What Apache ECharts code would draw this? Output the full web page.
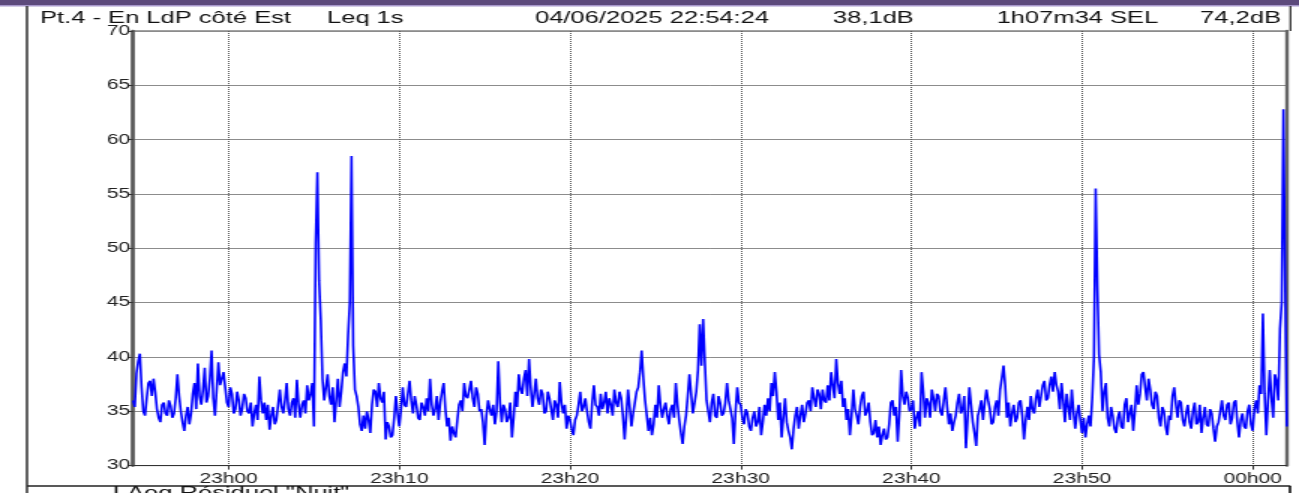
<!DOCTYPE html>
<html><head><meta charset="utf-8">
<script src="https://cdn.jsdelivr.net/npm/echarts@6/dist/echarts.min.js"></script>
<style>
html,body{margin:0;padding:0;background:#fff;overflow:hidden}
#c{width:866px;height:493px;transform:scaleX(1.5);transform-origin:0 0}
</style></head><body><div id="c"></div>
<script>
// ---- data ----
const headerParts = ['Pt.4 - En LdP côté Est', 'Leq 1s', '04/06/2025 22:54:24', '38,1dB', '1h07m34', 'SEL', '74,2dB'];
const footerText = 'LAeq Résiduel "Nuit"';
const durationSec = 4054;            // 1h07m34 from 22:54:24
const stepSec = 12;                  // leqEven at t = 12k s, leqOdd at t = 12k + 6 s
const tickSeconds = [336, 936, 1536, 2136, 2736, 3336, 3936];
const tickLabels = ['23h00', '23h10', '23h20', '23h30', '23h40', '23h50', '00h00'];
const leqEven = [
36.0, 38.5, 40.3, 35.0, 36.2, 37.8, 38.0, 35.2, 34.0, 35.8,
34.6, 35.5, 34.8, 38.4, 35.0, 33.2, 35.4, 34.8, 37.6, 39.4,
35.6, 39.0, 36.4, 40.6, 34.6, 39.5, 38.0, 37.2, 35.4, 36.6,
35.2, 36.0, 35.3, 36.2, 34.8, 33.6, 35.6, 38.2, 34.8, 34.2,
33.3, 35.4, 34.2, 37.0, 34.8, 37.6, 34.6, 36.2, 37.9, 34.4,
36.0, 37.4, 36.6, 33.6, 57.0, 43.4, 36.0, 38.4, 35.6, 34.0,
38.0, 36.8, 39.4, 42.0, 58.5, 37.0, 35.4, 33.2,
33.4, 34.2, 35.6, 36.8, 37.6, 35.8, 32.4, 33.6, 32.8, 36.4,
33.6, 37.2, 35.4, 37.8, 34.8, 35.6, 34.2, 35.4, 36.2, 38.0,
34.6, 36.4, 35.8, 37.6, 33.6, 32.3, 33.0, 34.2, 36.0, 37.6,
36.2, 37.8, 35.4, 36.6, 35.2, 31.9, 36.0, 34.6, 33.8, 39.6,
34.0, 35.2, 34.4, 32.6, 36.8, 38.4, 36.6, 38.8, 39.8, 35.4,
38.0, 35.6, 36.6, 35.0, 36.2, 34.2, 35.6, 37.7, 34.8, 33.4,
34.2, 32.8, 34.6, 36.8, 35.4, 35.0, 33.4, 37.4,
35.4, 36.6, 35.8, 34.8, 35.6, 37.0, 35.4, 36.2, 32.4, 37.0,
33.6, 35.8, 37.2, 40.6, 36.0, 33.2, 32.8, 35.6, 37.4, 34.4,
35.8, 33.8, 35.6, 37.6, 34.2, 32.0, 34.6, 38.4, 34.8, 36.8,
43.0, 43.5, 36.0, 34.0, 36.6, 34.4, 35.8, 34.8, 37.6, 35.2,
32.0, 37.2, 35.6, 33.8, 34.8, 33.2, 35.0, 34.0, 32.8, 35.6,
36.2, 37.6, 38.6, 34.2, 32.6, 36.2, 33.2, 31.5, 34.6, 33.4,
35.6, 34.8, 36.0, 37.2, 35.4, 36.6, 37.0, 35.8,
36.0, 37.4, 39.8, 36.6, 35.4, 34.2, 32.8, 37.0, 34.6, 35.4,
36.8, 35.0, 34.0, 33.0, 32.6, 31.9, 33.4, 32.6, 35.8, 34.6,
32.2, 38.8, 35.6, 36.2, 35.2, 33.4, 35.0, 38.6, 34.4, 35.8,
37.0, 35.0, 36.4, 34.6, 37.2, 33.8, 33.2, 34.6, 36.6, 35.2,
31.6, 37.2, 34.0, 31.8, 35.2, 34.2, 37.0, 35.2, 34.0, 36.0,
37.0, 39.2, 34.4, 33.6, 35.6, 34.4, 36.0, 32.4, 35.4, 36.4,
34.8, 37.0, 36.4, 37.8, 36.2, 38.2, 38.6,
36.8, 37.6, 34.0, 35.4, 37.0, 33.4, 35.6, 33.0, 32.6, 34.6,
36.2, 55.5, 40.2, 35.0, 37.6, 33.6, 34.6, 33.0, 35.0, 33.4,
36.2, 34.8, 33.2, 37.4, 36.6, 38.6, 36.0, 37.0, 35.2, 36.4,
33.6, 35.0, 32.8, 34.2, 37.2, 34.4, 35.8, 33.6, 35.6, 33.4,
35.8, 34.0, 33.0, 35.4, 33.6, 34.8, 32.2, 34.0, 36.0, 34.2,
35.8, 34.4, 36.0, 32.6, 34.8, 33.4, 35.6, 33.2, 36.0, 37.4,
44.0, 32.8, 38.8, 34.4, 37.8, 42.6, 62.8, 33.6
];
const leqOdd = [
35.4, 39.6, 37.2, 34.6, 37.6, 36.4, 36.8, 34.4, 35.6, 34.8,
36.0, 34.4, 36.2, 36.4, 34.0, 34.6, 33.8, 36.6, 35.2, 36.4,
37.0, 35.8, 38.0, 36.2, 37.0, 37.4, 38.6, 35.8, 37.2, 34.8,
36.8, 34.6, 36.6, 35.0, 35.8, 34.8, 34.2, 36.0, 35.8, 35.6,
34.6, 33.8, 35.6, 35.4, 36.0, 35.2, 35.8, 34.4, 35.6, 35.6,
34.8, 36.0, 37.6, 50.5, 47.0, 38.0, 37.2, 36.4, 37.2, 36.0,
35.4, 38.6, 38.2, 45.0, 41.0, 36.4, 33.8, 34.6,
35.0, 33.0, 37.0, 35.4, 36.2, 36.8, 34.0, 32.6, 34.4, 34.8,
35.2, 35.6, 36.6, 36.0, 36.4, 34.4, 35.8, 34.6, 35.0, 35.6,
35.2, 34.2, 36.8, 35.2, 34.4, 33.6, 32.6, 35.6, 35.0, 36.4,
37.0, 36.2, 37.2, 35.0, 34.0, 34.6, 35.2, 35.6, 35.0, 35.8,
35.6, 34.0, 35.8, 34.4, 35.4, 37.0, 38.0, 36.4, 37.2, 36.6,
36.2, 37.0, 34.8, 36.8, 35.2, 36.0, 34.4, 35.8, 35.6, 34.6,
33.4, 34.2, 35.6, 35.0, 36.2, 34.0, 35.8, 35.6,
34.6, 35.2, 36.8, 36.2, 34.6, 35.8, 36.8, 34.6, 34.6, 35.4,
34.8, 36.8, 38.6, 38.0, 34.6, 34.4, 33.8, 34.4, 35.6, 35.2,
34.6, 35.2, 34.4, 35.6, 33.0, 33.6, 36.4, 36.6, 35.8, 38.8,
39.2, 39.6, 35.0, 35.8, 34.6, 36.4, 34.6, 35.8, 36.0, 34.4,
35.0, 35.8, 34.4, 35.2, 33.6, 34.4, 33.6, 35.4, 34.0, 34.6,
35.0, 36.4, 36.8, 35.8, 34.4, 34.0, 32.6, 33.4, 35.4, 34.6,
34.0, 35.8, 35.0, 36.2, 37.0, 35.2, 36.0, 37.4,
38.6, 36.2, 37.6, 37.8, 36.2, 35.2, 34.6, 35.2, 33.8, 36.4,
34.6, 35.8, 32.8, 34.2, 33.6, 32.8, 32.4, 33.8, 36.0, 35.4,
34.8, 36.4, 36.8, 35.0, 36.0, 34.4, 33.6, 36.8, 36.2, 34.4,
36.2, 36.6, 35.0, 36.0, 35.4, 34.8, 34.0, 35.8, 34.8, 36.4,
34.4, 35.6, 33.0, 34.6, 36.0, 35.8, 36.0, 33.8, 35.4, 34.6,
38.0, 37.4, 35.8, 34.8, 34.0, 35.8, 34.6, 34.2, 34.2, 35.2,
36.2, 35.4, 37.4, 36.0, 37.4, 36.8, 37.4,
35.2, 36.0, 36.6, 34.2, 35.0, 34.8, 34.2, 34.4, 33.8, 33.6,
40.0, 46.5, 38.6, 36.8, 34.4, 35.4, 33.4, 34.4, 33.6, 35.6,
34.0, 35.6, 35.0, 35.6, 38.4, 37.2, 38.0, 35.6, 36.8, 34.4,
35.4, 33.6, 34.6, 36.4, 35.6, 36.0, 34.2, 34.8, 34.0, 35.0,
33.8, 35.6, 34.4, 33.8, 35.2, 33.4, 33.6, 35.0, 34.6, 35.6,
33.8, 35.8, 34.0, 34.2, 33.6, 35.0, 33.8, 35.2, 34.8, 36.6,
36.6, 36.0, 36.2, 38.4, 36.0, 45.0, 47.0
];
const yMin = 30, yMax = 70, yStep = 5;

// ---- chart ----
const FONT = '"Liberation Sans", Arial, sans-serif';
const headerPos = [[26.7, 'left'], [218, 'left'], [356.7, 'left'], [555.3, 'left'], [735.3, 'right'], [740, 'left'], [854, 'right']];
const chart = echarts.init(document.getElementById('c'), null, {renderer: 'canvas'});
const seriesData = [];
leqEven.forEach((v, i) => {
  seriesData.push([i * stepSec, v]);
  if (i < leqOdd.length) seriesData.push([i * stepSec + stepSec / 2, leqOdd[i]]);
});

const graphic = [
  {type: 'rect', shape: {x: 0, y: 0, width: 866, height: 5}, style: {fill: '#5d4a7c'}, silent: true},
  {type: 'rect', shape: {x: 0, y: 5, width: 866, height: 1.5}, style: {fill: '#a898cc'}, silent: true},
  {type: 'line', shape: {x1: 18, y1: 6, x2: 18, y2: 493}, style: {stroke: '#222', lineWidth: 1.4}, silent: true},
  {type: 'line', shape: {x1: 860.3, y1: 6, x2: 860.3, y2: 31}, style: {stroke: '#222', lineWidth: 1.2}, silent: true},
  {type: 'line', shape: {x1: 18, y1: 486, x2: 860.3, y2: 486}, style: {stroke: '#222', lineWidth: 1.5}, silent: true},
  {type: 'line', shape: {x1: 860, y1: 486, x2: 860, y2: 493}, style: {stroke: '#111', lineWidth: 1.6}, silent: true},
  {type: 'text', x: 75.3, y: 485, style: {text: footerText, font: '17px ' + FONT, fill: '#111', textVerticalAlign: 'top'}, silent: true}
];
headerParts.forEach((t, i) => {
  graphic.push({type: 'text', x: headerPos[i][0], y: 18.5,
    style: {text: t, font: '17px ' + FONT, fill: '#111', textAlign: headerPos[i][1], textVerticalAlign: 'middle'}, silent: true});
});

chart.setOption({
  animation: false,
  backgroundColor: '#fff',
  grid: {left: 88.7, right: 8.5, top: 31, bottom: 27.4, show: true, borderColor: '#444', borderWidth: 1},
  xAxis: [{
    type: 'value', min: 0, max: durationSec,
    axisLine: {show: true, lineStyle: {color: '#333', width: 1.2}},
    axisTick: {show: true, length: 4, customValues: tickSeconds, lineStyle: {color: '#333'}},
    axisLabel: {customValues: tickSeconds, margin: 7, color: '#222', fontSize: 14, fontFamily: FONT,
      formatter: v => tickLabels[tickSeconds.indexOf(v)] || ''},
    splitLine: {show: true, lineStyle: {color: '#555', type: 'dotted', width: 1}}
  }],
  yAxis: [{
    type: 'value', min: yMin, max: yMax, interval: yStep,
    axisLine: {show: true, lineStyle: {color: '#555', width: 2.6}},
    axisTick: {show: true, length: 3, lineStyle: {color: '#333'}},
    axisLabel: {margin: 2, color: '#222', fontSize: 14, fontFamily: FONT},
    splitLine: {show: true, lineStyle: {color: '#8c8c8c', width: 1}}
  }, {
    type: 'value', min: yMin, max: yMax, interval: yStep, position: 'right',
    axisLine: {show: true, lineStyle: {color: '#666', width: 2.4}},
    axisTick: {show: false}, axisLabel: {show: false}, splitLine: {show: false}
  }],
  series: [{
    type: 'line', data: seriesData, symbol: 'none', clip: true,
    lineStyle: {color: '#0000ff', width: 1.6}, z: 3
  }],
  graphic: graphic
});
</script></body></html>
